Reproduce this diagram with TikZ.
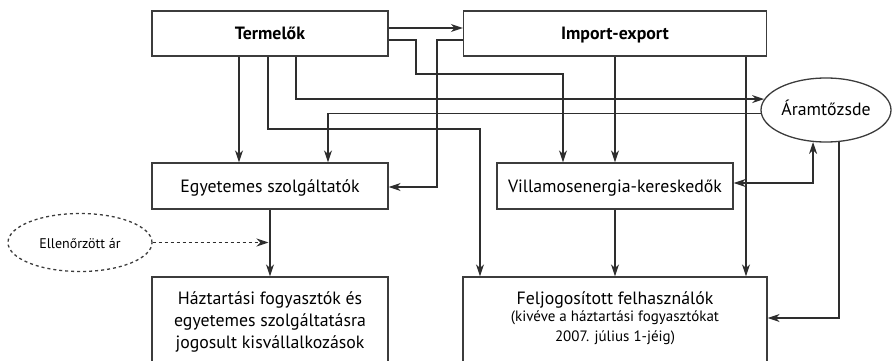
\documentclass[tikz,border=0pt]{standalone}
\usepackage{fontspec}
\setmainfont{PT Sans}
\usetikzlibrary{arrows.meta,shapes.geometric}
\definecolor{ln}{HTML}{2E2E2E}
\definecolor{bx}{HTML}{3C3C3C}
\begin{document}
\begin{tikzpicture}[x=1pt,y=-1pt,
  tip/.tip={Stealth[length=12pt,width=8pt,inset=3.8pt]},
  box/.style={draw=bx,line width=1.3pt,minimum width=236pt,minimum height=45pt,inner sep=0pt,text height=12.6pt,text depth=0pt},
  tall/.style={draw=bx,line width=1.3pt,minimum height=98pt,inner sep=0pt},
  oval/.style={ellipse,draw=bx,line width=1.3pt,inner sep=0pt},
  arr/.style={draw=ln,line width=1.4pt,-tip},
  darr/.style={draw=ln,line width=1.4pt,tip-tip},
  big/.style={font=\fontsize{17.8}{21}\selectfont},
  bigb/.style={font=\fontsize{17.8}{21}\selectfont\bfseries},
  sm/.style={font=\fontsize{15}{18}\selectfont},
  tiny/.style={font=\fontsize{14}{17}\selectfont},
  txt/.style={anchor=base,inner sep=0pt}]
\useasboundingbox (0,0) rectangle (892,361);
\clip (0,0) rectangle (892,361);

% boxes
\node[box,bigb] (term) at (270,33.5) {Termelők};
\node[box,bigb,minimum width=303pt] (imp) at (615,33.5) {Import-export};
\node[box,big,minimum height=46pt] (egy) at (270,186) {Egyetemes szolgáltatók};
\node[box,big,minimum height=46pt] (vil) at (615,186) {Villamosenergia-kereskedők};
\node[tall,minimum width=236pt] (haz) at (270,326) {};
\node[tall,minimum width=304pt] (fel) at (615,326) {};
\node[oval,big,minimum width=130pt,minimum height=64pt,text height=10pt,text depth=0pt] (aram) at (826,110) {Áramtőzsde};
\node[oval,tiny,dashed,minimum width=144pt,minimum height=58pt,text height=11.6pt,text depth=0pt] (ell) at (80,242.5) {Ellenőrzött ár};

% texts in tall boxes
\node[txt,big] (h1) at (270,304) {Háztartási fogyasztók és};
\node[txt,big] (h2) at (270,326.5) {egyetemes szolgáltatásra};
\node[txt,big] (h3) at (270,348.5) {jogosult kisvállalkozások};
\node[txt,big] (f1) at (615,304) {Feljogosított felhasználók};
\node[txt,sm] (f2) at (615,321.5) {(kivéve a háztartási fogyasztókat};
\node[txt,sm] (f3) at (615,341) {2007. július 1-jéig)};

% connectors
\draw[arr] (term.east |- 0,28) -- (imp.west |- 0,28);
\draw[arr] (term.east |- 0,40) -- (416,40) -- (416,74) -- (563,74) -- (563,0 |- vil.north);
\draw[arr] (imp.west |- 0,40) -- (437,40) -- (437,187) -- (egy.east |- 0,187);
\draw[arr] (239,0 |- term.south) -- (239,0 |- egy.north);
\draw[arr] (268,0 |- term.south) -- (268,129) -- (480,129) -- (480,0 |- fel.north);
\draw[arr] (296,0 |- term.south) |- (aram.170);
\draw[arr] (aram.183) -| (328,0 |- egy.north);
\draw[arr] (imp.south) -- (imp.south |- vil.north);
\draw[arr] (746,0 |- imp.south) -- (746,0 |- fel.north);
\draw[darr] (vil.east |- 0,183) -| (aram.248);
\draw[arr] (aram.292) |- (fel.east |- 0,318);
\draw[arr] (egy.south) -- (egy.south |- haz.north);
\draw[arr] (vil.south) -- (vil.south |- fel.north);
\draw[arr,dashed,shorten >=1.5pt] (ell.east) -- (egy.south |- ell.east);
\end{tikzpicture}
\end{document}
